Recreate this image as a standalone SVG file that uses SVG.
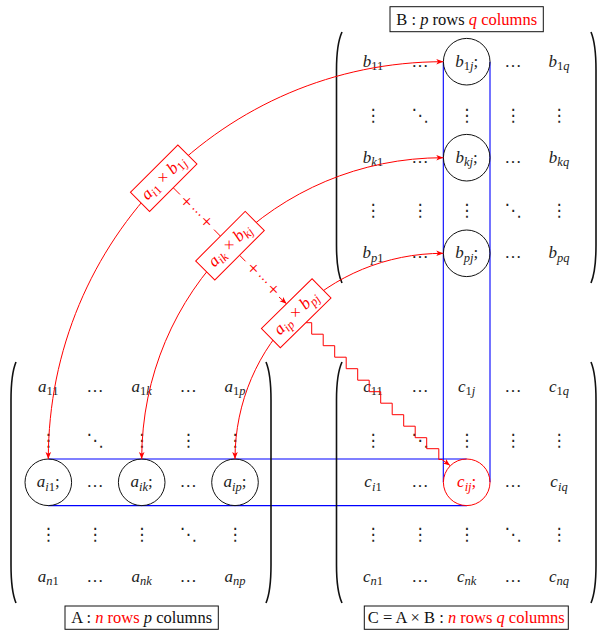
<svg xmlns="http://www.w3.org/2000/svg" width="597" height="630" viewBox="0 0 597 630">
<style>
.m{font-family:"Liberation Serif",serif;font-style:italic;font-size:17px;fill:#222}
.s{font-size:12.5px}
.up{font-style:normal}
.d{font-family:"DejaVu Sans",sans-serif;font-size:17px;fill:#222;font-style:normal}
.red{fill:red}
.lbl{font-family:"Liberation Serif",serif;font-size:16.5px;fill:#111}
.paren{fill:none;stroke:#111;stroke-width:1.6}
.circ{fill:none;stroke:#111;stroke-width:1}
.blue{fill:none;stroke:blue;stroke-width:1.1}
.rc{fill:none;stroke:red;stroke-width:1}
.box{fill:#fff;stroke:red;stroke-width:1}
.lbox{fill:#fff;stroke:#111;stroke-width:1}
.plus{font-family:"Liberation Serif",serif;font-size:20px;fill:red}
.cd{font-family:"DejaVu Sans",sans-serif;font-size:13px;fill:red}
</style>
<defs>
<marker id="ar" viewBox="0 0 10 10" refX="10" refY="5" markerWidth="7" markerHeight="7" markerUnits="userSpaceOnUse" orient="auto-start-reverse">
<path d="M0,1 L10,5 L0,9 L2.5,5 z" fill="red"/>
</marker>
</defs>

<g id="blue-frames">
<path class="blue" d="M443.3,61.7 V482.3 M490,61.7 V482.3"/>
<path class="blue" d="M48.3,459 H466.7 M48.3,505.6 H466.7"/>
</g>

<g id="matrixB">
<path class="paren" d="M342,32 Q336.5,44 336.5,70 L336.5,245 Q336.5,271 342,283"/>
<path class="paren" d="M591,32 Q596,44 596,70 L596,245 Q596,271 591,283"/>
<circle class="circ" cx="466.7" cy="61.7" r="23.3"/>
<circle class="circ" cx="466.7" cy="157.7" r="23.3"/>
<circle class="circ" cx="466.7" cy="253.3" r="23.3"/>
<text class="m" x="373" y="66.7" text-anchor="middle">b<tspan class="s up" dy="3.5">11</tspan></text>
<text class="m up" x="420" y="66.7" text-anchor="middle">…</text>
<text class="m" x="466.7" y="66.7" text-anchor="middle">b<tspan class="s up" dy="3.5">1</tspan><tspan class="s">j</tspan><tspan class="up" dy="-3.5">;</tspan></text>
<text class="m up" x="513" y="66.7" text-anchor="middle">…</text>
<text class="m" x="559" y="66.7" text-anchor="middle">b<tspan class="s up" dy="3.5">1</tspan><tspan class="s">q</tspan></text>
<text class="d" x="373" y="121" text-anchor="middle">⋮</text>
<text class="d" x="420" y="121" text-anchor="middle">⋱</text>
<text class="d" x="466.7" y="121" text-anchor="middle">⋮</text>
<text class="d" x="513" y="121" text-anchor="middle">⋮</text>
<text class="d" x="559" y="121" text-anchor="middle">⋮</text>
<text class="m" x="373" y="162.7" text-anchor="middle">b<tspan class="s" dy="3.5">k</tspan><tspan class="s up">1</tspan></text>
<text class="m up" x="420" y="162.7" text-anchor="middle">…</text>
<text class="m" x="466.7" y="162.7" text-anchor="middle">b<tspan class="s" dy="3.5">kj</tspan><tspan class="up" dy="-3.5">;</tspan></text>
<text class="m up" x="513" y="162.7" text-anchor="middle">…</text>
<text class="m" x="559" y="162.7" text-anchor="middle">b<tspan class="s" dy="3.5">kq</tspan></text>
<text class="d" x="373" y="216.3" text-anchor="middle">⋮</text>
<text class="d" x="420" y="216.3" text-anchor="middle">⋮</text>
<text class="d" x="466.7" y="216.3" text-anchor="middle">⋮</text>
<text class="d" x="513" y="216.3" text-anchor="middle">⋱</text>
<text class="d" x="559" y="216.3" text-anchor="middle">⋮</text>
<text class="m" x="373" y="258.3" text-anchor="middle">b<tspan class="s" dy="3.5">p</tspan><tspan class="s up">1</tspan></text>
<text class="m up" x="420" y="258.3" text-anchor="middle">…</text>
<text class="m" x="466.7" y="258.3" text-anchor="middle">b<tspan class="s" dy="3.5">pj</tspan><tspan class="up" dy="-3.5">;</tspan></text>
<text class="m up" x="513" y="258.3" text-anchor="middle">…</text>
<text class="m" x="559" y="258.3" text-anchor="middle">b<tspan class="s" dy="3.5">pq</tspan></text>
</g>

<g id="matrixA">
<path class="paren" d="M16,362 Q11,374 11,400 L11,565 Q11,591 16,603"/>
<path class="paren" d="M266,362 Q271,374 271,400 L271,565 Q271,591 266,603"/>
<circle class="circ" cx="48.3" cy="482.3" r="23.3"/>
<circle class="circ" cx="141.7" cy="482.3" r="23.3"/>
<circle class="circ" cx="235" cy="482.3" r="23.3"/>
<text class="m" x="48.3" y="391.7" text-anchor="middle">a<tspan class="s up" dy="3.5">11</tspan></text>
<text class="m up" x="95" y="391.7" text-anchor="middle">…</text>
<text class="m" x="141.7" y="391.7" text-anchor="middle">a<tspan class="s up" dy="3.5">1</tspan><tspan class="s">k</tspan></text>
<text class="m up" x="188.3" y="391.7" text-anchor="middle">…</text>
<text class="m" x="235" y="391.7" text-anchor="middle">a<tspan class="s up" dy="3.5">1</tspan><tspan class="s">p</tspan></text>
<text class="d" x="48.3" y="446" text-anchor="middle">⋮</text>
<text class="d" x="95" y="446" text-anchor="middle">⋱</text>
<text class="d" x="141.7" y="446" text-anchor="middle">⋮</text>
<text class="d" x="188.3" y="446" text-anchor="middle">⋮</text>
<text class="d" x="235" y="446" text-anchor="middle">⋮</text>
<text class="m" x="48.3" y="487.3" text-anchor="middle">a<tspan class="s" dy="3.5">i</tspan><tspan class="s up">1</tspan><tspan class="up" dy="-3.5">;</tspan></text>
<text class="m up" x="95" y="487.3" text-anchor="middle">…</text>
<text class="m" x="141.7" y="487.3" text-anchor="middle">a<tspan class="s" dy="3.5">ik</tspan><tspan class="up" dy="-3.5">;</tspan></text>
<text class="m up" x="188.3" y="487.3" text-anchor="middle">…</text>
<text class="m" x="235" y="487.3" text-anchor="middle">a<tspan class="s" dy="3.5">ip</tspan><tspan class="up" dy="-3.5">;</tspan></text>
<text class="d" x="48.3" y="540" text-anchor="middle">⋮</text>
<text class="d" x="95" y="540" text-anchor="middle">⋮</text>
<text class="d" x="141.7" y="540" text-anchor="middle">⋮</text>
<text class="d" x="188.3" y="540" text-anchor="middle">⋱</text>
<text class="d" x="235" y="540" text-anchor="middle">⋮</text>
<text class="m" x="48.3" y="581.7" text-anchor="middle">a<tspan class="s" dy="3.5">n</tspan><tspan class="s up">1</tspan></text>
<text class="m up" x="95" y="581.7" text-anchor="middle">…</text>
<text class="m" x="141.7" y="581.7" text-anchor="middle">a<tspan class="s" dy="3.5">nk</tspan></text>
<text class="m up" x="188.3" y="581.7" text-anchor="middle">…</text>
<text class="m" x="235" y="581.7" text-anchor="middle">a<tspan class="s" dy="3.5">np</tspan></text>
</g>

<g id="matrixC">
<path class="paren" d="M342,362 Q336.5,374 336.5,400 L336.5,565 Q336.5,591 342,603"/>
<path class="paren" d="M591,362 Q596,374 596,400 L596,565 Q596,591 591,603"/>
<circle cx="466.7" cy="482.3" r="23.3" fill="none" stroke="red" stroke-width="1"/>
<text class="m" x="373" y="391.7" text-anchor="middle">c<tspan class="s up" dy="3.5">11</tspan></text>
<text class="m up" x="420" y="391.7" text-anchor="middle">…</text>
<text class="m" x="466.7" y="391.7" text-anchor="middle">c<tspan class="s up" dy="3.5">1</tspan><tspan class="s">j</tspan></text>
<text class="m up" x="513" y="391.7" text-anchor="middle">…</text>
<text class="m" x="559" y="391.7" text-anchor="middle">c<tspan class="s up" dy="3.5">1</tspan><tspan class="s">q</tspan></text>
<text class="d" x="373" y="446" text-anchor="middle">⋮</text>
<text class="d" x="420" y="446" text-anchor="middle">⋱</text>
<text class="d" x="466.7" y="446" text-anchor="middle">⋮</text>
<text class="d" x="513" y="446" text-anchor="middle">⋮</text>
<text class="d" x="559" y="446" text-anchor="middle">⋮</text>
<text class="m" x="373" y="487.3" text-anchor="middle">c<tspan class="s" dy="3.5">i</tspan><tspan class="s up">1</tspan></text>
<text class="m up" x="420" y="487.3" text-anchor="middle">…</text>
<text class="m red" x="466.7" y="487.3" text-anchor="middle">c<tspan class="s" dy="3.5">ij</tspan><tspan class="up" dy="-3.5">;</tspan></text>
<text class="m up" x="513" y="487.3" text-anchor="middle">…</text>
<text class="m" x="559" y="487.3" text-anchor="middle">c<tspan class="s" dy="3.5">iq</tspan></text>
<text class="d" x="373" y="540" text-anchor="middle">⋮</text>
<text class="d" x="420" y="540" text-anchor="middle">⋮</text>
<text class="d" x="466.7" y="540" text-anchor="middle">⋮</text>
<text class="d" x="513" y="540" text-anchor="middle">⋱</text>
<text class="d" x="559" y="540" text-anchor="middle">⋮</text>
<text class="m" x="373" y="581.7" text-anchor="middle">c<tspan class="s" dy="3.5">n</tspan><tspan class="s up">1</tspan></text>
<text class="m up" x="420" y="581.7" text-anchor="middle">…</text>
<text class="m" x="466.7" y="581.7" text-anchor="middle">c<tspan class="s" dy="3.5">nk</tspan></text>
<text class="m up" x="513" y="581.7" text-anchor="middle">…</text>
<text class="m" x="559" y="581.7" text-anchor="middle">c<tspan class="s" dy="3.5">nq</tspan></text>
</g>

<g id="labelB">
<rect class="lbox" x="390" y="6.7" width="153.3" height="25"/>
<text class="lbl" x="466.7" y="24.5" text-anchor="middle">B : <tspan font-style="italic">p</tspan> rows <tspan class="red" font-style="italic">q</tspan><tspan class="red"> columns</tspan></text>
</g>
<g id="labelA">
<rect class="lbox" x="65" y="606" width="153.3" height="23.3"/>
<text class="lbl" x="141.7" y="623" text-anchor="middle">A : <tspan class="red" font-style="italic">n</tspan><tspan class="red"> rows</tspan> <tspan font-style="italic">p</tspan> columns</text>
</g>
<g id="labelC">
<rect class="lbox" x="364.3" y="606" width="204" height="23.3"/>
<text class="lbl" x="466.3" y="623" text-anchor="middle">C = A × B : <tspan class="red" font-style="italic">n</tspan><tspan class="red"> rows </tspan><tspan class="red" font-style="italic">q</tspan><tspan class="red"> columns</tspan></text>
</g>

<g id="connectors">
<path class="rc" d="M48.3,459 C48.3,240 224.3,61.7 443.3,61.7" marker-start="url(#ar)" marker-end="url(#ar)"/>
<path class="rc" d="M141.7,459 C141.7,291.9 276.5,157.7 443.3,157.7" marker-start="url(#ar)" marker-end="url(#ar)"/>
<path class="rc" d="M235,459 C235,344.1 328.7,253.3 443.3,253.3" marker-start="url(#ar)" marker-end="url(#ar)"/>
<path class="rc" d="M173.2,187.7 L180,194.5 M214,229.6 L220.5,236.2"/>
<path class="rc" d="M239.5,255.2 L245.5,261.3 M279,297 L286.6,303.8" marker-end="url(#ar)"/>
<path class="rc" d="M305.8,322.7 H311.7 V334.2 H323.2 V345.7 H334.7 V357.2 H346.2 V368.7 H357.7 V380.2 H369.2 V391.7 H380.7 V403.2 H392.2 V414.7 H403.7 V426.2 H415.2 V437.7 H426.7 V448.7 H438.8 V459.5 H442 L450,465.5" marker-end="url(#ar)"/>
<text class="plus" transform="translate(186.7,201.7) rotate(45)" y="6.5" text-anchor="middle">+</text>
<text class="plus" transform="translate(206.7,221.7) rotate(45)" y="6.5" text-anchor="middle">+</text>
<text class="plus" transform="translate(253.3,268.3) rotate(45)" y="6.5" text-anchor="middle">+</text>
<text class="plus" transform="translate(273.3,289.5) rotate(45)" y="6.5" text-anchor="middle">+</text>
<text class="cd" transform="translate(196.7,211.7) rotate(45)" y="4.5" text-anchor="middle">⋯</text>
<text class="cd" transform="translate(263.3,279) rotate(45)" y="4.5" text-anchor="middle">⋯</text>
</g>

<g id="product1" transform="translate(163.7,178.2) rotate(-45)">
<rect class="box" x="-33.5" y="-13.5" width="67" height="27"/>
<text class="m red" x="0" y="4.5" text-anchor="middle">a<tspan class="s" dy="3.5">i</tspan><tspan class="s up">1</tspan><tspan class="up" dy="-3.5"> × </tspan><tspan>b</tspan><tspan class="s up" dy="3.5">1</tspan><tspan class="s">j</tspan></text>
</g>
<g id="product2" transform="translate(230,245.7) rotate(-45)">
<rect class="box" x="-35" y="-13.5" width="70" height="27"/>
<text class="m red" x="0" y="4.5" text-anchor="middle">a<tspan class="s" dy="3.5">ik</tspan><tspan class="up" dy="-3.5"> × </tspan><tspan>b</tspan><tspan class="s" dy="3.5">kj</tspan></text>
</g>
<g id="product3" transform="translate(296.2,313.3) rotate(-44.5)">
<rect class="box" x="-35.5" y="-13.5" width="71" height="27"/>
<text class="m red" x="0" y="4.5" text-anchor="middle">a<tspan class="s" dy="3.5">ip</tspan><tspan class="up" dy="-3.5"> × </tspan><tspan>b</tspan><tspan class="s" dy="3.5">pj</tspan></text>
</g>
</svg>
